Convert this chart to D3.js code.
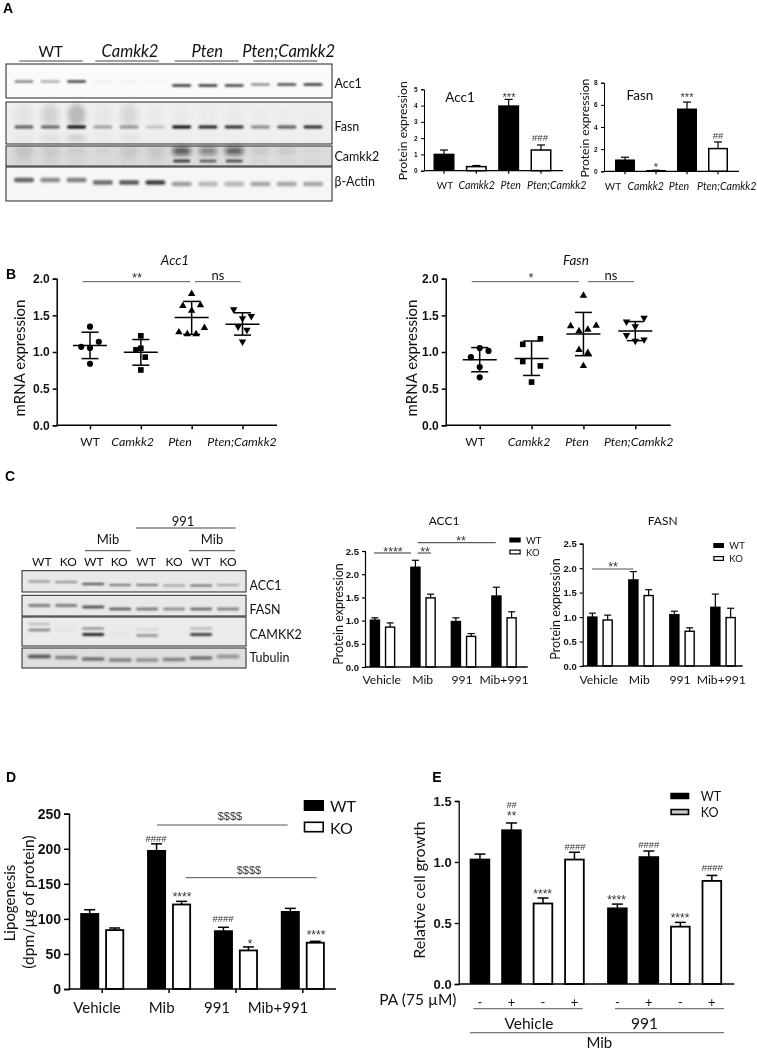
<!DOCTYPE html>
<html><head><meta charset="utf-8">
<script src="https://cdn.jsdelivr.net/npm/d3@7"></script>
<style>html,body{margin:0;padding:0;background:#fff}svg{display:block;filter:blur(0.3px)}</style></head>
<body><div id="c"></div>
<script>
// ---------- data ----------
const genotypes = ["WT","Camkk2","Pten","Pten;Camkk2"];
const treatments = ["Vehicle","Mib","991","Mib+991"];
const acc1ProteinMean = [1.0,0.25,3.97,1.27];
const acc1ProteinTop  = [1.27,0.32,4.38,1.58];
const fasnProteinMean = [1.0,0.05,5.6,2.05];
const fasnProteinTop  = [1.27,0.1,6.25,2.65];

const acc1mRNA = [
 [1.345,1.14,1.07,1.055,0.84],
 [1.22,1.05,1.03,0.93,0.755],
 [1.795,1.63,1.64,1.565,1.27,1.245,1.245,1.33],
 [1.58,1.49,1.46,1.345,1.30,1.14]];
const acc1Jitter = [[0,1,-1,0,0],[0,0,-0.55,0.5,0],[0,-1,1,0,-1.45,-0.5,0.5,1.45],[-1,1,0,-0.5,0.5,0]];
const acc1Summary = [[1.09,1.27,0.91],[0.995,1.17,0.82],[1.47,1.69,1.24],[1.38,1.535,1.23]];
const fasnmRNA = [
 [1.055,1.015,0.93,0.795,0.655],
 [1.18,1.105,0.87,0.81,0.59],
 [1.77,1.355,1.36,1.285,1.305,1.03,0.99,0.81],
 [1.465,1.415,1.35,1.23,1.15,1.17]];
const fasnJitter = [[0,1,-1,0,0],[1,-1,-1,1,0],[0,-1.45,1.45,-0.5,0.5,-0.5,0.5,0],[1,-1,0,-1,0,1]];
const fasnSummary = [[0.895,1.06,0.73],[0.91,1.15,0.68],[1.245,1.54,0.95],[1.285,1.415,1.155]];

const c1Mean = [[1.01,0.86],[2.15,1.49],[0.98,0.66],[1.53,1.06]];
const c1Top  = [[1.06,0.95],[2.30,1.57],[1.06,0.72],[1.72,1.19]];
const c2Mean = [[1.0,0.94],[1.76,1.44],[1.05,0.71],[1.2,0.99]];
const c2Top  = [[1.08,1.04],[1.93,1.56],[1.12,0.78],[1.47,1.18]];
const dMean = [[107,84],[197,120.5],[82.5,55],[110,66]];
const dTop  = [[113,87],[207,125],[88,60],[115,68]];
const eGroups = ["Vehicle","991"];
const eMean = [[1.02,1.26,0.66,1.02],[0.62,1.04,0.47,0.845]];
const eTop  = [[1.065,1.32,0.705,1.08],[0.655,1.09,0.505,0.89]];
const eFill = [["WT","WT","KO","KO"],["WT","WT","KO","KO"]];
const ePA = ["-","+","-","+"];

// band intensities per lane, read from the blots
const blotAacc1 = [.6,.4,.95,.06,.05,.02,1,1,.95,.55,.9,1];
const blotAfasn = [.65,.6,1,.35,.4,.2,1,.9,.85,.45,.65,.85];
const blotAfasnSmear = [.07,.15,.28,.05,.12,.02,.02,.02,.02,.01,.01,.01];
const blotAcamkUpper = [.1,.07,.05,.03,.08,.08,.75,.5,.7,.1,.1,.03];
const blotAcamkLower = [.05,.05,.03,.01,.01,.01,.85,.65,.75,.06,.05,.05];
const blotAactin = [.7,.5,.55,.65,.75,.85,.42,.3,.3,.38,.38,.38];
const blotCacc1 = [.5,.55,.95,.7,.7,.45,.75,.45];
const blotCfasn = [.55,.55,.75,.65,.55,.45,.6,.5];
const blotCcamkUpper = [.3,.02,.6,.02,.15,0,.35,0];
const blotCcamkLower = [.45,.04,1,.04,.4,0,.85,0];
const blotCtub = [.75,.5,.6,.5,.42,.5,.6,.42];

// ---------- helpers ----------
const W=757,H=1050;
const svg=d3.select("#c").append("svg").attr("width",W).attr("height",H);
const defs=svg.append("defs");
[["b1",0.9],["b2",2.6],["b3",4.5]].forEach(([id,s])=>{
  defs.append("filter").attr("id",id).attr("x","-30%").attr("y","-200%").attr("width","160%").attr("height","500%")
    .append("feGaussianBlur").attr("stdDeviation",s);
});
const CAL="Lato, 'Open Sans', sans-serif", ARI="'Liberation Sans', Arial, sans-serif";
function txt(x,y,s,o={}){
  const t=svg.append("text").attr("x",x).attr("y",y).text(s)
   .attr("font-family",o.family||CAL).attr("font-size",o.size||11)
   .attr("text-anchor",o.anchor||"middle").attr("dominant-baseline","central")
   .attr("fill",o.fill||"#111");
  if(o.style)t.attr("font-style",o.style);
  if(o.weight)t.attr("font-weight",o.weight);
  if(o.rotate)t.attr("transform",`rotate(-90 ${x} ${y})`);
  return t;
}
function rule(x1,x2,y,o={}){
  svg.append("line").attr("x1",x1).attr("x2",x2).attr("y1",y).attr("y2",y)
    .attr("stroke",o.stroke||"#555").attr("stroke-width",o.w||1);
}
function yAxis(x,scale,ticks,fmt,o){
  const g=svg.append("g").attr("transform",`translate(${x},0)`)
    .call(d3.axisLeft(scale).tickValues(ticks).tickFormat(fmt).tickSizeOuter(0).tickSize(o.tick));
  g.select(".domain").attr("stroke","#000").attr("stroke-width",o.sw);
  g.selectAll(".tick line").attr("stroke","#000").attr("stroke-width",o.sw);
  g.selectAll("text").attr("font-family",ARI).attr("font-weight","bold").attr("font-size",o.fs).attr("fill","#111").attr("dx",o.dx||0);
}
function xBase(band,x0,x1,y,o){
  svg.append("line").attr("x1",x0).attr("x2",x1).attr("y1",y).attr("y2",y).attr("stroke","#000").attr("stroke-width",o.sw);
  if(o.tick){
    const g=svg.append("g").attr("transform",`translate(0,${y})`)
      .call(d3.axisBottom(band).tickSize(o.tick).tickFormat(""));
    g.select(".domain").remove();
    g.selectAll(".tick line").attr("stroke","#000").attr("stroke-width",o.sw);
  }
}
function bar(cx,w,y0,v,top,isKO,sw,cap,esw){
  svg.append("line").attr("x1",cx).attr("x2",cx).attr("y1",v).attr("y2",top).attr("stroke","#000").attr("stroke-width",esw);
  svg.append("line").attr("x1",cx-cap).attr("x2",cx+cap).attr("y1",top).attr("y2",top).attr("stroke","#000").attr("stroke-width",esw);
  if(isKO) svg.append("rect").attr("x",cx-w/2+sw/2).attr("width",w-sw).attr("y",v).attr("height",Math.max(0,y0-v)).attr("fill","#fff").attr("stroke","#000").attr("stroke-width",sw);
  else svg.append("rect").attr("x",cx-w/2).attr("width",w).attr("y",v-sw/2).attr("height",y0-v+sw/2).attr("fill","#000");
}
function grouped(first,last,n,nSub,subStep,barW,domain){
  const S=(last-first)/(n-1), g=nSub*subStep, pi=(S-g)/S;
  const x0=d3.scaleBand().domain(domain).range([first-g/2,last+g/2]).paddingInner(pi).paddingOuter(0);
  const x1=d3.scaleBand().domain(d3.range(nSub)).range([0,g]).paddingInner(1-barW/subStep).paddingOuter((1-barW/subStep)/2);
  return {x0,x1};
}
function legend(xs,xe,tx,wy,ky,h,sw,size,sty){
  svg.append("rect").attr("x",xs).attr("width",xe-xs).attr("y",wy-h/2).attr("height",h).attr("fill","#000");
  svg.append("rect").attr("x",xs+sw/2).attr("width",xe-xs-sw).attr("y",ky-h/2+sw/2).attr("height",h-sw).attr("fill",sty||"#fff").attr("stroke","#000").attr("stroke-width",sw);
  txt(tx,wy,"WT",{anchor:"start",size});
  txt(tx,ky,"KO",{anchor:"start",size});
}
function blotBox(x0,x1,y0,y1,bg){
  svg.append("rect").attr("x",x0).attr("y",y0).attr("width",x1-x0).attr("height",y1-y0).attr("fill",bg);
}
function frame(x0,x1,y0,y1){
  svg.append("rect").attr("x",x0).attr("y",y0).attr("width",x1-x0).attr("height",y1-y0).attr("fill","none").attr("stroke","#222").attr("stroke-width",1);
}
function bands(lane,vals,y,w,h,filt,dark){
  const g=svg.append("g").attr("filter",`url(#${filt})`);
  g.selectAll("rect").data(vals).join("rect")
    .attr("x",(d,i)=>lane(i)-w/2).attr("width",w)
    .attr("y",(d,i)=>(typeof y==="function"?y(i):y)-h/2).attr("height",h).attr("rx",h/2)
    .attr("fill",dark).attr("opacity",d=>d);
}

// ---------- panel letters ----------
[["A",8,8],["B",11,274],["C",10,476],["D",11,777],["E",437,777]].forEach(d=>
  txt(d[1],d[2],d[0],{weight:"bold",size:14,family:ARI,fill:"#000"}));

// ---------- panel A blot ----------
const laneA=d3.scalePoint().domain(d3.range(12)).range([24,313]);
blotBox(6,332,64,98,"#fafafa");
blotBox(6,332,102,144,"#efefef");
blotBox(6,332,146,166,"#dcdcdc");
blotBox(6,332,167,201,"#f6f6f6");
bands(laneA,blotAacc1,i=>i<6?81.5:(i<9?85.5:84.5),19,2.2,"b1","#000");
bands(laneA,blotAfasnSmear,115,18,22,"b2","#333");
bands(laneA,blotAfasn,127,19,2.8,"b1","#000");
bands(laneA,blotAfasnSmear,138,19,5,"b2","#555");
bands(laneA,blotAcamkUpper,151,18,7,"b2","#111");
bands(laneA,blotAcamkLower,161,17,2.6,"b1","#000");
bands(laneA,blotAcamkUpper.map((d,i)=>i<6?d*1.8:0),156,16,8,"b3","#444");
bands(laneA,blotAactin,i=>i<3?180:(i<6?182.5:184),20,4.5,"b1","#222");
[[6,332,64,98],[6,332,102,144],[6,332,146,166],[6,332,167,201]].forEach(r=>frame(...r));
[["WT",50.7,19.3,82.7,null,15],["Camkk2",130,95.3,159,"italic",16.5],["Pten",207.3,174.7,238.7,"italic",16.5],["Pten;Camkk2",288.7,253.3,317.3,"italic",16.5]].forEach(d=>{
  txt(d[1],50.5,d[0],{size:d[5],style:d[4]});
  rule(d[2],d[3],61,{stroke:"#444"});
});
[["Acc1",83],["Fasn",126],["Camkk2",156],["β-Actin",181.5]].forEach(d=>txt(334.5,d[1],d[0],{anchor:"start",size:12.5}));

// ---------- panel A charts ----------
function chartA(o){
  const y=d3.scaleLinear().domain([0,o.max]).range([o.y0,o.y1]);
  const x=d3.scaleBand().domain(genotypes).range([o.c0-o.step/2,o.c3+o.step/2]).paddingInner(1-o.bw/o.step).paddingOuter((1-o.bw/o.step)/2);
  genotypes.forEach((g,i)=>bar(x(g)+x.bandwidth()/2,o.bw,y(0),y(o.mean[i]),y(o.top[i]),i%2===1,1.5,4,1.2));
  yAxis(o.ax,y,o.ticks,d3.format("d"),{tick:3,sw:1,fs:6.5,dx:-0.5});
  xBase(x,o.ax,o.xe,y(0),{sw:1.2,tick:3});
  genotypes.forEach((g,i)=>txt(o.lab[i],o.y0+14.5,g,{size:i?10.6:10,style:i?"italic":null}));
  txt(o.yl,o.ylc,"Protein expression",{size:12.2,rotate:true});
}
chartA({max:5,y0:170.7,y1:89.3,c0:444,c3:541,step:32.33,bw:21,mean:acc1ProteinMean,top:acc1ProteinTop,ticks:[0,1,2,3,4,5],ax:424,xe:563,lab:[445,476.7,510.7,556.7],yl:402.5,ylc:130.7});
chartA({max:8,y0:171.3,y1:82.7,c0:625,c3:718,step:31,bw:20,mean:fasnProteinMean,top:fasnProteinTop,ticks:[0,2,4,6,8],ax:604,xe:739,lab:[613,645.7,679,726.7],yl:584,ylc:128});
txt(460,97,"Acc1",{size:13.5}); txt(640,95,"Fasn",{size:13.5});
const SIG=(x,y,s,size)=>txt(x,y,s,{size:size||9,family:ARI,fill:"#333"});
SIG(509,97,"***",11);SIG(540,137.5,"###",9.5);SIG(656,167,"*",11);SIG(687,97,"***",11);SIG(718,135,"##",9.5);

// ---------- panel B ----------
function scatter(o){
  const y=d3.scaleLinear().domain([0,2]).range([425.3,278.7]);
  const x=d3.scalePoint().domain(genotypes).range([o.c0,o.c3]);
  const sym=[d3.symbolCircle,d3.symbolSquare,d3.symbolTriangle,d3.symbolTriangle];
  genotypes.forEach((g,i)=>{
    const cx=x(g), s=o.sum[i];
    const l=(a,b,c,e)=>svg.append("line").attr("x1",a).attr("x2",b).attr("y1",c).attr("y2",e).attr("stroke","#000").attr("stroke-width",1.5);
    l(cx,cx,y(s[1]),y(s[2]));
    l(cx-17,cx+17,y(s[0]),y(s[0]));
    l(cx-8.5,cx+8.5,y(s[1]),y(s[1]));
    l(cx-8.5,cx+8.5,y(s[2]),y(s[2]));
    svg.append("g").selectAll("path").data(o.vals[i]).join("path")
      .attr("d",d3.symbol().type(sym[i]).size(i===1?32:(i===0?30:24)))
      .attr("transform",(d,j)=>`translate(${cx+o.jit[i][j]*8.8},${y(d)})${i===3?" rotate(180)":""}`)
      .attr("fill","#000");
    txt(o.lab[i],441.5,g,{size:i?12.4:12,style:i?"italic":null});
  });
  yAxis(o.ax,y,[0,0.5,1,1.5,2],d3.format(".1f"),{tick:4,sw:1.5,fs:12,dx:0});
  xBase(x,o.ax,o.xe,y(0),{sw:1.5,tick:4});
  txt(o.yl,358,"mRNA expression",{size:15,rotate:true});
  txt(o.tx,259.5,o.title,{size:13.5,style:"italic"});
  rule(o.l1[0],o.l1[1],281.7);rule(o.l2[0],o.l2[1],281.7);
  SIG(o.l1c,277.5,o.sig,13);
  txt(o.l2c,275,"ns",{size:13});
}
scatter({c0:90,c3:242.5,ax:56.7,xe:277,vals:acc1mRNA,jit:acc1Jitter,sum:acc1Summary,lab:[90,132.7,180,242],yl:19,tx:175,title:"Acc1",l1:[82.7,190],l2:[195,240.7],l1c:137,l2c:218,sig:"**"});
scatter({c0:479.7,c3:635.3,ax:445.7,xe:670.7,vals:fasnmRNA,jit:fasnJitter,sum:fasnSummary,lab:[475,529,577,638.7],yl:411,tx:576,title:"Fasn",l1:[471.7,579],l2:[588,634],l1c:531,l2c:611,sig:"*"});

// ---------- panel C blot ----------
const laneC=d3.scalePoint().domain(d3.range(8)).range([39.3,228]);
blotBox(22,246,570.7,592,"#e8e8e8");
blotBox(22,246,595.3,616,"#e8e8e8");
blotBox(22,246,617,646,"#ebebeb");
blotBox(22,246,648,668,"#dfdfdf");
bands(laneC,blotCacc1,i=>[581.5,582,584,585,585,585.5,585.5,585][i],22,1.7,"b1","#000");
bands(laneC,blotCfasn,i=>[605.5,605.5,607,609,609,609,609,609][i],22,2.5,"b1","#000");
bands(laneC,blotCcamkUpper,i=>[624,624,628.5,628.5,629.5,629.5,628.5,628.5][i],22,1.6,"b1","#000");
bands(laneC,blotCcamkLower,i=>[630,630,634.5,634.5,635.5,635.5,634.5,634.5][i],22,2.3,"b1","#000");
bands(laneC,blotCtub,i=>[656.5,657.5,659,660,660,659.5,658,656.5][i],23,3.6,"b1","#222");
[[22,246,570.7,592],[22,246,595.3,616],[22,246,617,646],[22,246,648,668]].forEach(r=>frame(...r));
["WT","KO","WT","KO","WT","KO","WT","KO"].forEach((s,i)=>txt(laneC(i)+[2.5,2,0.5,-1,-1,0,0,0][i],561.5,s,{size:12}));
txt(108,539,"Mib",{size:13});txt(212,539,"Mib",{size:13});txt(183,521,"991",{size:13});
rule(85,130.7,550.7,{stroke:"#444"});rule(189,235,550.7,{stroke:"#444"});rule(136,235.7,528,{stroke:"#444"});
[["ACC1",585],["FASN",609],["CAMKK2",634],["Tubulin",657]].forEach(d=>txt(249.5,d[1],d[0],{anchor:"start",size:12.5}));

// ---------- panel C charts ----------
function chartC(o){
  const y=d3.scaleLinear().domain([0,2.5]).range([o.y0,o.y1]);
  const {x0,x1}=grouped(o.first,o.last,4,2,o.sub,o.bw,treatments);
  treatments.forEach((t,i)=>[0,1].forEach(j=>
    bar(x0(t)+x1(j)+x1.bandwidth()/2,o.bw,y(0),y(o.mean[i][j]),y(o.top[i][j]),j===1,1.4,3.5,1.2)));
  yAxis(o.ax,y,[0,.5,1,1.5,2,2.5],d3.format(".1f"),{tick:3,sw:1.2,fs:9.5,dx:0});
  xBase(x0,o.ax,o.xe,y(0),{sw:1.3,tick:0});
  treatments.forEach((t,i)=>txt(o.lab[i],679,t,{size:12.2}));
  txt(o.yl,o.ylc,"Protein expression",{size:12.5,rotate:true});
  txt(o.tx,520,o.title,{size:12});
}
chartC({first:382.5,last:504,sub:15.2,bw:10.5,y0:667,y1:551,mean:c1Mean,top:c1Top,ax:365,xe:527.7,lab:[381.7,422.7,462,504],yl:338,ylc:614,tx:444,title:"ACC1"});
chartC({first:600,last:723,sub:15.3,bw:10.5,y0:666,y1:543.7,mean:c2Mean,top:c2Top,ax:582.7,xe:742.7,lab:[598.7,639.3,680,721.3],yl:555.7,ylc:609,tx:662.7,title:"FASN"});
rule(374,411,553,{stroke:"#333"});rule(417.7,431,553,{stroke:"#333"});rule(417.7,495.7,542.7,{stroke:"#333"});rule(592,633.3,569,{stroke:"#555"});
SIG(393,552,"****",12.5);SIG(425,552,"**",12.5);SIG(461,541,"**",12.5);SIG(613,567,"**",12.5);
legend(509.3,520.7,526,540,552,5,1.2,9.5);
legend(713.3,724,729.3,545.5,558.5,5,1.2,9.5);

// ---------- panel D ----------
(function(){
  const y=d3.scaleLinear().domain([0,250]).range([989,813.7]);
  const {x0,x1}=grouped(102.2,302.8,4,2,25,19,treatments);
  treatments.forEach((t,i)=>[0,1].forEach(j=>
    bar(x0(t)+x1(j)+x1.bandwidth()/2,19,y(0),y(dMean[i][j]),y(dTop[i][j]),j===1,1.8,5.5,1.5)));
  yAxis(69,y,[0,50,100,150,200,250],d3.format("d"),{tick:5,sw:1.5,fs:14,dx:0});
  xBase(x0,69,336,y(0),{sw:1.5,tick:4});
  [97,161.7,217,278].forEach((p,i)=>txt(p,1007,treatments[i],{size:15}));
  txt(8.5,903,"Lipogenesis",{size:15,rotate:true});
  txt(28,902,"(dpm/µg of protein)",{size:15.5,rotate:true});
  rule(157,287.7,825);rule(185.7,316.7,877.7);
  txt(230,816,"$$$$",{size:11,family:ARI,fill:"#333"});txt(249,869.5,"$$$$",{size:11,family:ARI,fill:"#333"});
  SIG(156,838,"####",9.5);SIG(182,896.5,"****",12);SIG(223,918.5,"####",9.5);SIG(250,943.5,"*",12);SIG(316,934.5,"****",12);
  legend(303.7,324,330,805.5,827,11,1.6,16);
})();

// ---------- panel E ----------
(function(){
  const y=d3.scaleLinear().domain([0,1.5]).range([984,801]);
  const {x0,x1}=grouped(527.2,664.6,2,4,31.5,20.5,eGroups);
  eGroups.forEach((g,i)=>d3.range(4).forEach(j=>{
    const cx=x0(g)+x1(j)+x1.bandwidth()/2;
    bar(cx,20.5,y(0),y(eMean[i][j]),y(eTop[i][j]),eFill[i][j]==="KO",1.8,5.5,1.5);
    txt(cx,1002,ePA[j],{size:13});
  }));
  yAxis(458.7,y,[0,.5,1,1.5],d3.format(".1f"),{tick:4,sw:1.3,fs:13,dx:0});
  xBase(x0,458.7,734.3,y(0),{sw:1.3,tick:0});
  txt(418,890,"Relative cell growth",{size:16,rotate:true});
  txt(456.5,999,"PA (75 µM)",{size:15.5,anchor:"end"});
  rule(473.3,582.7,1008.7);rule(615,724,1008.7);rule(470,724,1032.7);
  txt(529,1023,"Vehicle",{size:15.5});txt(644.5,1023,"991",{size:15.5});txt(599.3,1041.5,"Mib",{size:15});
  SIG(511.7,805,"##",9);SIG(511.7,815.5,"**",12);SIG(542.7,893.5,"****",12);SIG(575,846,"####",9.5);
  SIG(616.5,899.5,"****",12);SIG(648.7,844.5,"####",9.5);SIG(680,917.5,"****",12);SIG(712.3,867.5,"####",9.5);
  legend(670.3,689.3,700.7,796,812,6.5,1.6,12.5,"#ccc");
})();
</script></body></html>
